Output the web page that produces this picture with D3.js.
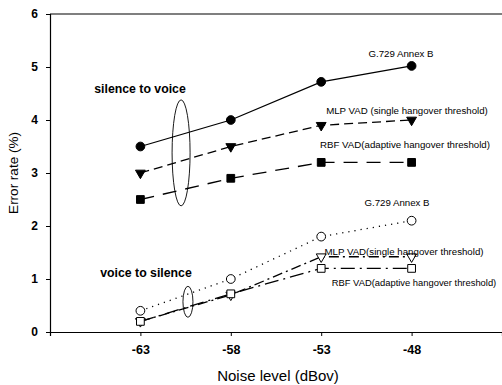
<!DOCTYPE html>
<html>
<head>
<meta charset="utf-8">
<script src="https://d3js.org/d3.v7.min.js"></script>
<style>
  body { margin: 0; background: #fff; }
  svg { display: block; font-family: Arial, "Liberation Sans", sans-serif; }
</style>
</head>
<body>
<svg width="502" height="385"></svg>
<script>
    var width = 502, height = 385;
    var margin = { top: 14, right: 0, bottom: 53, left: 50 };

    // noise levels (dBov)
    var noise = [-63, -58, -53, -48];
    var xTicks = [-63, -58, -53, -48];
    var yTicks = [0, 1, 2, 3, 4, 5, 6];

    // silence to voice error rates (%)
    var g729S2V = [3.5, 4.0, 4.72, 5.02];
    var mlpS2V = [3.0, 3.5, 3.9, 4.0];
    var rbfS2V = [2.5, 2.9, 3.2, 3.2];

    // voice to silence error rates (%)
    var g729V2S = [0.4, 1.0, 1.8, 2.1];
    var mlpV2S = [0.2, 0.7, 1.42, 1.42];
    var rbfV2S = [0.2, 0.72, 1.2, 1.2];

    var series = [
        { values: g729S2V, marker: 'circle', fill: '#000', dash: null },
        { values: mlpS2V, marker: 'triangle', fill: '#000', dash: '9,5' },
        { values: rbfS2V, marker: 'square', fill: '#000', dash: '14,9' },
        { values: g729V2S, marker: 'circle', fill: '#fff', dash: '1.2,5' },
        { values: mlpV2S, marker: 'triangle', fill: '#fff', dash: '10,4,2,4' },
        { values: rbfV2S, marker: 'square', fill: '#fff', dash: '14,5,2,5' }
    ];

    var x = d3.scaleLinear()
        .domain([-68, -43])
        .range([margin.left, width - margin.right]);
    var y = d3.scaleLinear()
        .domain([0, 6])
        .range([height - margin.bottom, margin.top]);

    var svg = d3.select('svg');

    // top frame line
    svg.append('line')
        .attr('x1', x(-68)).attr('x2', x(-43))
        .attr('y1', y(6)).attr('y2', y(6))
        .attr('stroke', '#000').attr('stroke-width', 1.2);

    var xAxis = svg.append('g')
        .attr('transform', `translate(0,${y(0)})`)
        .call(d3.axisBottom(x).tickValues(xTicks).tickFormat(d => String(d)).tickSize(4).tickPadding(9));
    xAxis.select('.domain').attr('stroke-width', 1.2);
    xAxis.selectAll('text').attr('font-size', 12.5).attr('font-weight', 'bold').attr('fill', '#000');

    var yAxis = svg.append('g')
        .attr('transform', `translate(${x(-68)},0)`)
        .call(d3.axisLeft(y).tickValues(yTicks).tickFormat(d => String(d)).tickSize(4).tickPadding(8));
    yAxis.select('.domain').attr('stroke-width', 1.2);
    yAxis.selectAll('text').attr('font-size', 12).attr('font-weight', 'bold').attr('fill', '#000');

    svg.append('text')
        .attr('x', 278).attr('y', 381)
        .attr('text-anchor', 'middle')
        .attr('font-size', 15)
        .text('Noise level (dBov)');

    svg.append('text')
        .attr('transform', 'translate(18,173) rotate(-90)')
        .attr('text-anchor', 'middle')
        .attr('font-size', 13.5)
        .text('Error rate (%)');

    var line = d3.line()
        .x((d, i) => x(noise[i]))
        .y(d => y(d));

    var plot = svg.append('g');

    series.forEach(function(s) {
        plot.append('path')
            .attr('d', line(s.values))
            .attr('fill', 'none')
            .attr('stroke', '#000')
            .attr('stroke-width', 1.3)
            .attr('stroke-dasharray', s.dash);
    });

    var shapes = { circle: d3.symbolCircle, triangle: d3.symbolTriangle, square: d3.symbolSquare };
    var sizes = { circle: 60, triangle: 42, square: 60 };

    series.forEach(function(s) {
        plot.selectAll(null)
            .data(s.values)
            .join('path')
            .attr('d', d3.symbol(shapes[s.marker], sizes[s.marker]))
            .attr('transform', (d, i) => `translate(${x(noise[i])},${y(d)})` + (s.marker === 'triangle' ? ' rotate(180)' : ''))
            .attr('fill', s.fill)
            .attr('stroke', '#000')
            .attr('stroke-width', 1);
    });

    // ellipses grouping the series
    svg.append('ellipse')
        .attr('cx', x(-60.75)).attr('cy', y(3.38))
        .attr('rx', 9).attr('ry', 53)
        .attr('fill', 'none').attr('stroke', '#000').attr('stroke-width', 0.9);
    svg.append('ellipse')
        .attr('cx', x(-60.37)).attr('cy', y(0.57))
        .attr('rx', 5).attr('ry', 15.5)
        .attr('fill', 'none').attr('stroke', '#000').attr('stroke-width', 0.9);

    var labels = [
        { t: 'silence to voice', x: 140, y: 93, s: 12.3, b: true },
        { t: 'voice to silence', x: 146, y: 277, s: 12.3, b: true },
        { t: 'G.729 Annex B', x: 401, y: 57, s: 9.7 },
        { t: 'MLP VAD (single hangover threshold)', x: 407, y: 114, s: 9.7 },
        { t: 'RBF VAD(adaptive hangover threshold)', x: 405, y: 148, s: 9.7 },
        { t: 'G.729 Annex B', x: 397, y: 206, s: 9.7 },
        { t: 'MLP VAD(single hangover threshold)', x: 404, y: 255, s: 9.7 },
        { t: 'RBF VAD(adaptive hangover threshold)', x: 414, y: 286, s: 9.4 }
    ];
    svg.selectAll('.lbl')
        .data(labels)
        .join('text')
        .attr('class', 'lbl')
        .attr('x', d => d.x).attr('y', d => d.y)
        .attr('text-anchor', 'middle')
        .attr('font-size', d => d.s)
        .attr('font-weight', d => d.b ? 'bold' : 'normal')
        .text(d => d.t);
</script>
</body>
</html>
